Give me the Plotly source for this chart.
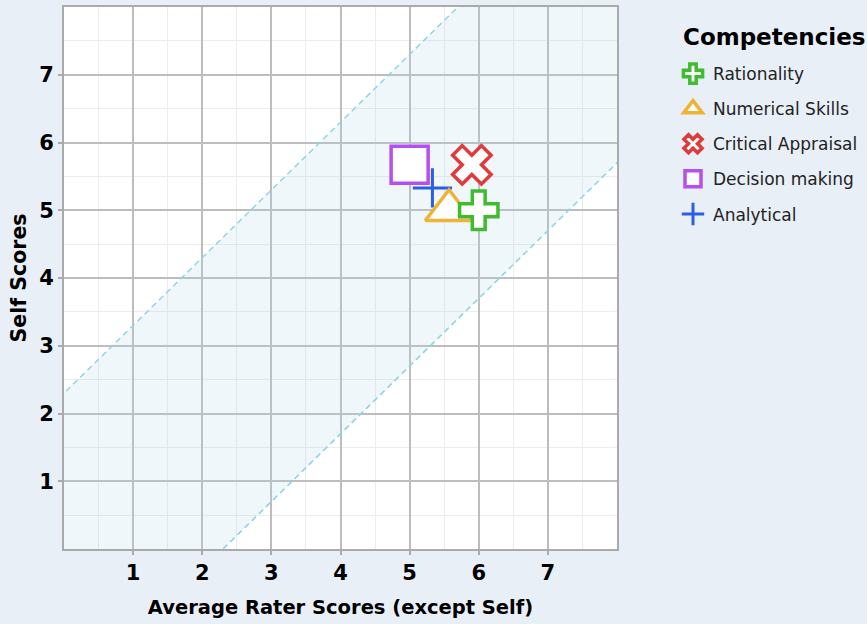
import plotly.graph_objects as go

# ---- data ----
competencies = ["Rationality", "Numerical Skills", "Critical Appraisal", "Decision making", "Analytical"]
rater_scores = [6.0, 5.57, 5.9, 5.0, 5.33]
self_scores = [5.0, 5.0, 5.67, 5.67, 5.33]
band_offset = 2.3
axis_ticks = [1, 2, 3, 4, 5, 6, 7]
axis_range = [0, 8]
legend_title = "Competencies"

# ---- styles ----
styles = {
    "Rationality": dict(symbol="cross", color="#3dbd2e", size=32, lw=3.5),
    "Numerical Skills": dict(symbol="triangle-up", color="#f0b232", size=41, lw=3.5),
    "Critical Appraisal": dict(symbol="x", color="#e03a3a", size=34, lw=3.5),
    "Decision making": dict(symbol="square", color="#b64ef0", size=37, lw=3.5),
    "Analytical": dict(symbol="cross-thin", color="#2a5ee8", size=28, lw=3),
}
draw_order = ["Analytical", "Numerical Skills", "Decision making", "Critical Appraisal", "Rationality"]

FONT = "DejaVu Sans"
fig = go.Figure()

# agreement band
bx = [axis_range[0] - 4, axis_range[1] + 4]
fig.add_trace(go.Scatter(x=bx, y=[v + band_offset for v in bx], mode="lines",
                         line=dict(color="#8fd3e6", width=1.5, dash="6px,4px"),
                         showlegend=False, hoverinfo="skip"))
fig.add_trace(go.Scatter(x=bx, y=[v - band_offset for v in bx], mode="lines",
                         line=dict(color="#8fd3e6", width=1.5, dash="6px,4px"),
                         fill="tonexty", fillcolor="rgba(173,216,230,0.2)",
                         showlegend=False, hoverinfo="skip"))

for name in draw_order:
    i = competencies.index(name)
    s = styles[name]
    fig.add_trace(go.Scatter(
        x=[rater_scores[i]], y=[self_scores[i]], mode="markers", name=name,
        legendgroup=name, legendrank=i + 1,
        marker=dict(symbol=s["symbol"], size=s["size"],
                    color="white" if s["symbol"] != "cross-thin" else s["color"],
                    line=dict(color=s["color"], width=s["lw"])),
    ))

axis_common = dict(
    range=axis_range, tickmode="array", tickvals=axis_ticks,
    showgrid=True, gridcolor="#bdbdbd", gridwidth=2,
    minor=dict(dtick=0.5, tick0=0, showgrid=True, gridcolor="#ececec", gridwidth=1),
    showline=True, linecolor="#aaaaaa", linewidth=2, mirror=True,
    ticks="outside", ticklen=4, tickcolor="#aaaaaa", tickwidth=2,
    tickfont=dict(family=FONT, size=21, color="black", weight="bold"),
    zeroline=False, fixedrange=True,
)

fig.add_annotation(
    text=legend_title, xref="paper", yref="paper",
    x=(681 - 64) / 553, y=(549 - 37) / 542, xanchor="left", yanchor="middle",
    showarrow=False, font=dict(family=FONT, size=23, color="black", weight="bold"),
)

fig.update_layout(
    width=867, height=624,
    margin=dict(l=64, r=250, t=7, b=75, autoexpand=False),
    paper_bgcolor="#e9eff7", plot_bgcolor="white",
    xaxis=dict(axis_common, title=dict(text="Average Rater Scores (except Self)",
                                       font=dict(family=FONT, size=19.5, color="black", weight="bold"),
                                       standoff=16)),
    yaxis=dict(axis_common, title=dict(text="Self Scores",
                                       font=dict(family=FONT, size=20.5, color="black", weight="bold"),
                                       standoff=7)),
    legend=dict(
        x=(673 - 64) / 553, xanchor="left", y=(549 - 56) / 542, yanchor="top",
        bgcolor="rgba(0,0,0,0)",
        font=dict(family=FONT, size=17, color="#222"),
        tracegroupgap=10, itemsizing="trace",
    ),
    showlegend=True,
)

fig.write_html("out.html", config={"displayModeBar": False},
               post_script="document.body.style.margin='0';")
